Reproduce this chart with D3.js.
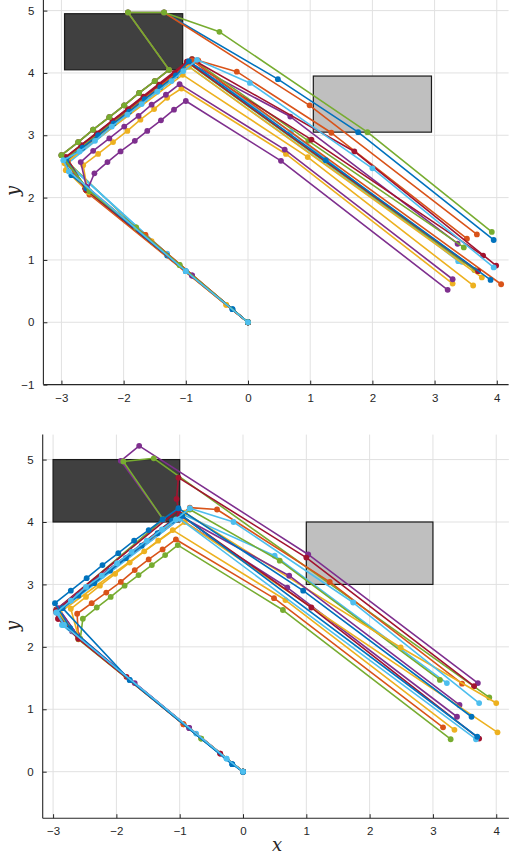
<!DOCTYPE html>
<html>
<head>
<meta charset="utf-8">
<title>trajectories</title>
<style>
  body { margin: 0; background: #fff; }
  svg { display: block; }
  .tick text { font-family: Helvetica, Arial, "Liberation Sans", sans-serif; font-size: 11.5px; fill: #262626; }
  .lab { font-family: "DejaVu Serif", "Liberation Serif", serif; font-style: italic; font-size: 18px; fill: #262626; }
</style>
<script src="https://cdn.jsdelivr.net/npm/d3@7"></script>
</head>
<body>
<script>
// MATLAB default colour order
var colors = ['#0072BD', '#D95319', '#EDB120', '#7E2F8E', '#77AC30', '#4DBEEE', '#A2142F'];

var xTicks = [-3, -2, -1, 0, 1, 2, 3, 4];
var topYTicks = [-1, 0, 1, 2, 3, 4, 5];
var bottomYTicks = [0, 1, 2, 3, 4, 5];

// obstacles: [x0, y0, x1, y1]
var topObstacles = [[-2.95, 4.05, -1.05, 4.95], [1.05, 3.05, 2.95, 3.95]];
var bottomObstacles = [[-3, 4, -1, 5], [1, 3, 3, 4]];
var obstacleFill = ['#404040', '#bfbfbf'];

// upper plot: trajectories (colour index, points)
var topColor = [1, 3, 4, 6, 5, 5, 6, 4, 2, 1, 2, 0, 1, 2, 3, 3, 6, 0, 4, 5];
var topTraj = [
  [[0,0],[-2.55,2.05],[-2.93,2.62],[-0.8,4.2],[-0.18,4.02],[1.34,3.04],[3.52,1.34]],
  [[0,0],[-2.6,2.12],[-2.93,2.6],[-0.92,4.15],[0.68,3.3],[3.37,1.26]],
  [[0,0],[-1.8,1.52],[-2.96,2.63],[-0.9,4.22],[0.97,2.91],[3.47,1.2]],
  [[0,0],[-2.6,2.12],[-2.93,2.65],[-0.98,4.18],[1.02,2.93],[3.78,1.07]],
  [[0,0],[-1.0,0.82],[-2.9,2.55],[-0.9,4.15],[0.69,3.05],[3.38,0.98]],
  [[0,0],[-1.3,1.1],[-2.95,2.58],[-0.95,4.1],[3.44,0.97]],
  [[0,0],[-2.62,2.15],[-2.9,2.62],[-0.9,4.22],[1.71,2.74],[3.99,0.91]],
  [[0,0],[-1.1,0.92],[-2.58,2.1],[-2.95,2.6],[-0.95,4.15],[3.64,0.84]],
  [[0,0],[-0.35,0.28],[-2.55,2.08],[-2.9,2.58],[-0.95,4.1],[3.76,0.72]],
  [[0,0],[-1.65,1.4],[-2.6,2.12],[-2.9,2.6],[-0.9,4.2],[4.07,0.61]],
  [[0,0],[-1.55,1.3],[-2.6,2.12],[-2.93,2.44],[-2.95,2.55],[-1.05,3.97],[0.96,2.65],[3.62,0.59]],
  [[0,0],[-0.25,0.21],[-1.3,1.07],[-2.84,2.36],[-3.0,2.68],[-2.73,2.89],[-2.49,3.09],[-2.23,3.29],[-1.99,3.48],[-1.75,3.68],[-1.5,3.87],[-1.27,4.05],[-1.93,4.97],[-1.35,4.97],[0.48,3.9],[1.77,3.05],[3.95,1.32]],
  [[0,0],[-1.65,1.4],[-2.6,2.12],[-3.0,2.68],[-2.73,2.89],[-2.49,3.09],[-2.23,3.29],[-1.99,3.48],[-1.75,3.68],[-1.5,3.87],[-1.27,4.05],[-1.93,4.97],[-1.35,4.97],[0.99,3.48],[3.68,1.41]],
  [[0,0],[-0.35,0.28],[-2.58,2.1],[-2.65,2.52],[-2.41,2.7],[-2.17,2.89],[-1.94,3.07],[-1.73,3.25],[-1.51,3.42],[-1.3,3.6],[-1.07,3.75],[0.61,2.7],[3.29,0.62]],
  [[0,0],[-0.9,0.75],[-2.6,2.18],[-2.69,2.57],[-2.49,2.75],[-2.23,2.95],[-1.99,3.14],[-1.76,3.31],[-1.55,3.49],[-1.32,3.65],[-1.1,3.82],[0.59,2.77],[3.29,0.69]],
  [[0,0],[-0.9,0.75],[-2.58,2.13],[-2.47,2.39],[-2.26,2.57],[-2.05,2.74],[-1.82,2.91],[-1.62,3.07],[-1.4,3.24],[-1.19,3.41],[-1.0,3.55],[0.53,2.59],[3.21,0.52]],
  [[0,0],[-2.6,2.12],[-2.93,2.65],[-2.68,2.84],[-2.43,3.03],[-2.18,3.23],[-1.93,3.42],[-1.68,3.62],[-1.43,3.81],[-1.18,4.0],[-0.98,4.18],[3.7,0.82]],
  [[0,0],[-0.25,0.21],[-1.0,0.82],[-2.6,2.15],[-2.92,2.6],[-2.66,2.8],[-2.41,3.0],[-2.16,3.19],[-1.91,3.38],[-1.66,3.58],[-1.41,3.77],[-1.16,3.96],[-0.95,4.19],[1.25,2.6],[3.9,0.68]],
  [[0,0],[-1.1,0.92],[-1.8,1.52],[-2.55,2.1],[-3.0,2.68],[-2.73,2.89],[-2.49,3.09],[-2.23,3.29],[-1.99,3.48],[-1.75,3.68],[-1.5,3.87],[-1.27,4.05],[-1.93,4.97],[-1.35,4.97],[-0.46,4.66],[1.92,3.05],[3.92,1.45]],
  [[0,0],[-1.0,0.82],[-2.88,2.42],[-2.97,2.6],[-2.71,2.74],[-2.46,2.91],[-2.19,3.14],[-1.94,3.33],[-1.71,3.5],[-1.46,3.7],[-1.23,3.87],[-1.04,4.03],[-0.82,4.21],[0.03,3.84],[2.0,2.47],[3.95,0.88]]
];

// lower plot: trajectories
var bottomColor = [3, 4, 6, 1, 5, 4, 2, 3, 3, 2, 4, 1, 2, 6, 5, 0, 0, 5];
var bottomTraj = [
  [[0,0],[-0.85,0.7],[-2.7,2.25],[-2.95,2.55],[-1.26,4.04],[-1.93,4.98],[-1.64,5.22],[1.03,3.48],[3.71,1.42]],
  [[0,0],[-0.66,0.53],[-2.6,2.15],[-2.95,2.58],[-1.26,4.04],[-1.89,4.97],[-1.41,5.02],[3.89,1.19]],
  [[0,0],[-0.36,0.29],[-1.84,1.52],[-2.92,2.45],[-2.95,2.6],[-1.02,4.2],[-1.05,4.37],[-1.02,4.71],[1.0,3.43],[3.65,1.37]],
  [[0,0],[-0.94,0.76],[-2.6,2.15],[-2.93,2.6],[-0.84,4.23],[-0.41,4.2],[1.37,3.04],[3.46,1.41]],
  [[0,0],[-0.74,0.61],[-2.86,2.35],[-2.93,2.57],[-0.95,4.12],[0.5,3.46],[3.22,1.42]],
  [[0,0],[-2.6,2.12],[-2.94,2.6],[-0.84,4.2],[0.58,3.38],[3.11,1.47]],
  [[0,0],[-2.59,2.13],[-2.93,2.58],[-0.92,4.15],[2.49,1.99],[4.0,1.1]],
  [[0,0],[-1.71,1.42],[-2.62,2.2],[-2.92,2.62],[-1.0,4.1],[0.73,3.14],[3.42,1.07]],
  [[0,0],[-0.85,0.7],[-2.6,2.15],[-2.9,2.6],[-1.0,4.05],[0.7,2.95],[3.38,0.88]],
  [[0,0],[-2.59,2.13],[-2.9,2.55],[-0.92,4.0],[4.02,0.63]],
  [[0,0],[-0.66,0.53],[-2.57,2.13],[-2.53,2.45],[-2.31,2.63],[-2.09,2.8],[-1.87,2.98],[-1.65,3.15],[-1.44,3.31],[-1.23,3.47],[-1.03,3.63],[0.63,2.59],[3.28,0.52]],
  [[0,0],[-0.94,0.76],[-2.6,2.13],[-2.62,2.53],[-2.39,2.7],[-2.16,2.87],[-1.93,3.04],[-1.71,3.23],[-1.49,3.4],[-1.27,3.56],[-1.06,3.72],[0.49,2.78],[3.16,0.71]],
  [[0,0],[-2.59,2.13],[-2.72,2.61],[-2.48,2.8],[-2.26,2.98],[-2.02,3.17],[-1.79,3.35],[-1.56,3.53],[-1.34,3.7],[-1.11,3.87],[0.67,2.75],[3.34,0.67]],
  [[0,0],[-0.36,0.29],[-2.6,2.13],[-2.92,2.45],[-2.95,2.58],[-1.0,4.12],[1.08,2.63],[3.73,0.53]],
  [[0,0],[-0.26,0.21],[-2.83,2.35],[-2.93,2.55],[-1.0,4.05],[3.68,0.52]],
  [[0,0],[-0.17,0.12],[-1.79,1.47],[-2.85,2.62],[-2.6,2.82],[-2.35,3.02],[-2.1,3.22],[-1.85,3.42],[-1.6,3.62],[-1.35,3.82],[-1.12,4.02],[-0.96,4.1],[3.7,0.56]],
  [[0,0],[-0.17,0.12],[-1.79,1.47],[-2.73,2.3],[-2.97,2.7],[-2.72,2.9],[-2.47,3.1],[-2.22,3.31],[-1.97,3.5],[-1.72,3.7],[-1.49,3.87],[-1.27,4.04],[-1.02,4.22],[0.95,2.9],[3.61,0.88]],
  [[0,0],[-0.26,0.21],[-2.83,2.35],[-2.95,2.55],[-2.72,2.74],[-2.48,2.96],[-2.23,3.14],[-1.99,3.34],[-1.76,3.52],[-1.52,3.7],[-1.28,3.88],[-1.06,4.04],[-0.84,4.22],[-0.15,4.0],[1.74,2.71],[3.73,1.1]]
];

var svg = d3.select('body').append('svg').attr('width', 509).attr('height', 857);

function drawPanel(opt) {
  var x = d3.scaleLinear().domain(opt.xd).range(opt.xr);
  var y = d3.scaleLinear().domain(opt.yd).range(opt.yr);
  var g = svg.append('g');

  // grid
  g.selectAll('.gx').data(xTicks).enter().append('line')
    .attr('x1', d => x(d)).attr('x2', d => x(d))
    .attr('y1', opt.yr[0]).attr('y2', opt.yr[1])
    .attr('stroke', '#e1e1e1').attr('stroke-width', 1);
  g.selectAll('.gy').data(opt.yTicks).enter().append('line')
    .attr('x1', opt.xr[0]).attr('x2', opt.xr[1])
    .attr('y1', d => y(d)).attr('y2', d => y(d))
    .attr('stroke', '#e1e1e1').attr('stroke-width', 1);

  // obstacles
  g.selectAll('.obs').data(opt.obstacles).enter().append('rect')
    .attr('x', d => x(d[0])).attr('y', d => y(d[3]))
    .attr('width', d => x(d[2]) - x(d[0])).attr('height', d => y(d[1]) - y(d[3]))
    .attr('fill', (d, i) => obstacleFill[i])
    .attr('stroke', '#1a1a1a').attr('stroke-width', 1.2);

  var line = d3.line().x(d => x(d[0])).y(d => y(d[1]));
  opt.traj.forEach((t, i) => {
    var c = colors[opt.col[i]];
    g.append('path').attr('d', line(t)).attr('fill', 'none')
      .attr('stroke', c).attr('stroke-width', 1.6).attr('stroke-linejoin', 'round');
    g.selectAll(null).data(t).enter().append('circle')
      .attr('cx', d => x(d[0])).attr('cy', d => y(d[1])).attr('r', 2.9)
      .attr('fill', c);
  });

  // axes
  var ax = g.append('g').attr('transform', 'translate(0,' + opt.yr[0] + ')')
    .call(d3.axisBottom(x).tickValues(xTicks).tickSize(-4).tickPadding(9).tickFormat(d3.format('d')));
  var ay = g.append('g').attr('transform', 'translate(' + opt.xr[0] + ',0)')
    .call(d3.axisLeft(y).tickValues(opt.yTicks).tickSize(-4).tickPadding(9).tickFormat(d3.format('d')));
  [ax, ay].forEach(a => {
    a.select('.domain').attr('stroke', '#262626').attr('stroke-width', 1.1);
    a.selectAll('.tick line').attr('stroke', '#262626');
    a.selectAll('.tick text').attr('font-size', null).attr('font-family', null);
  });
  ax.select('.domain').attr('d', 'M' + opt.xr[0] + ',0H' + opt.xr[1]);
  ay.select('.domain').attr('d', 'M0,' + opt.yr[0] + 'V' + opt.yr[1]);

  svg.append('text').attr('class', 'lab')
    .attr('transform', 'translate(' + 19 + ',' + opt.yLabelY + ') rotate(-90)')
    .attr('text-anchor', 'middle').text('y');
}

drawPanel({
  xd: [-3.29, 4.19], xr: [43.4, 508.6],
  yd: [-1, 5.17], yr: [384.6, 0],
  yTicks: topYTicks, obstacles: topObstacles,
  traj: topTraj, col: topColor, yLabelY: 191
});
drawPanel({
  xd: [-3.164, 4.2], xr: [42.7, 508.9],
  yd: [-0.745, 5.4], yr: [818.2, 434.6],
  yTicks: bottomYTicks, obstacles: bottomObstacles,
  traj: bottomTraj, col: bottomColor, yLabelY: 626
});

svg.append('text').attr('class', 'lab')
  .attr('x', 277).attr('y', 851).attr('text-anchor', 'middle').text('x');
</script>
</body>
</html>
